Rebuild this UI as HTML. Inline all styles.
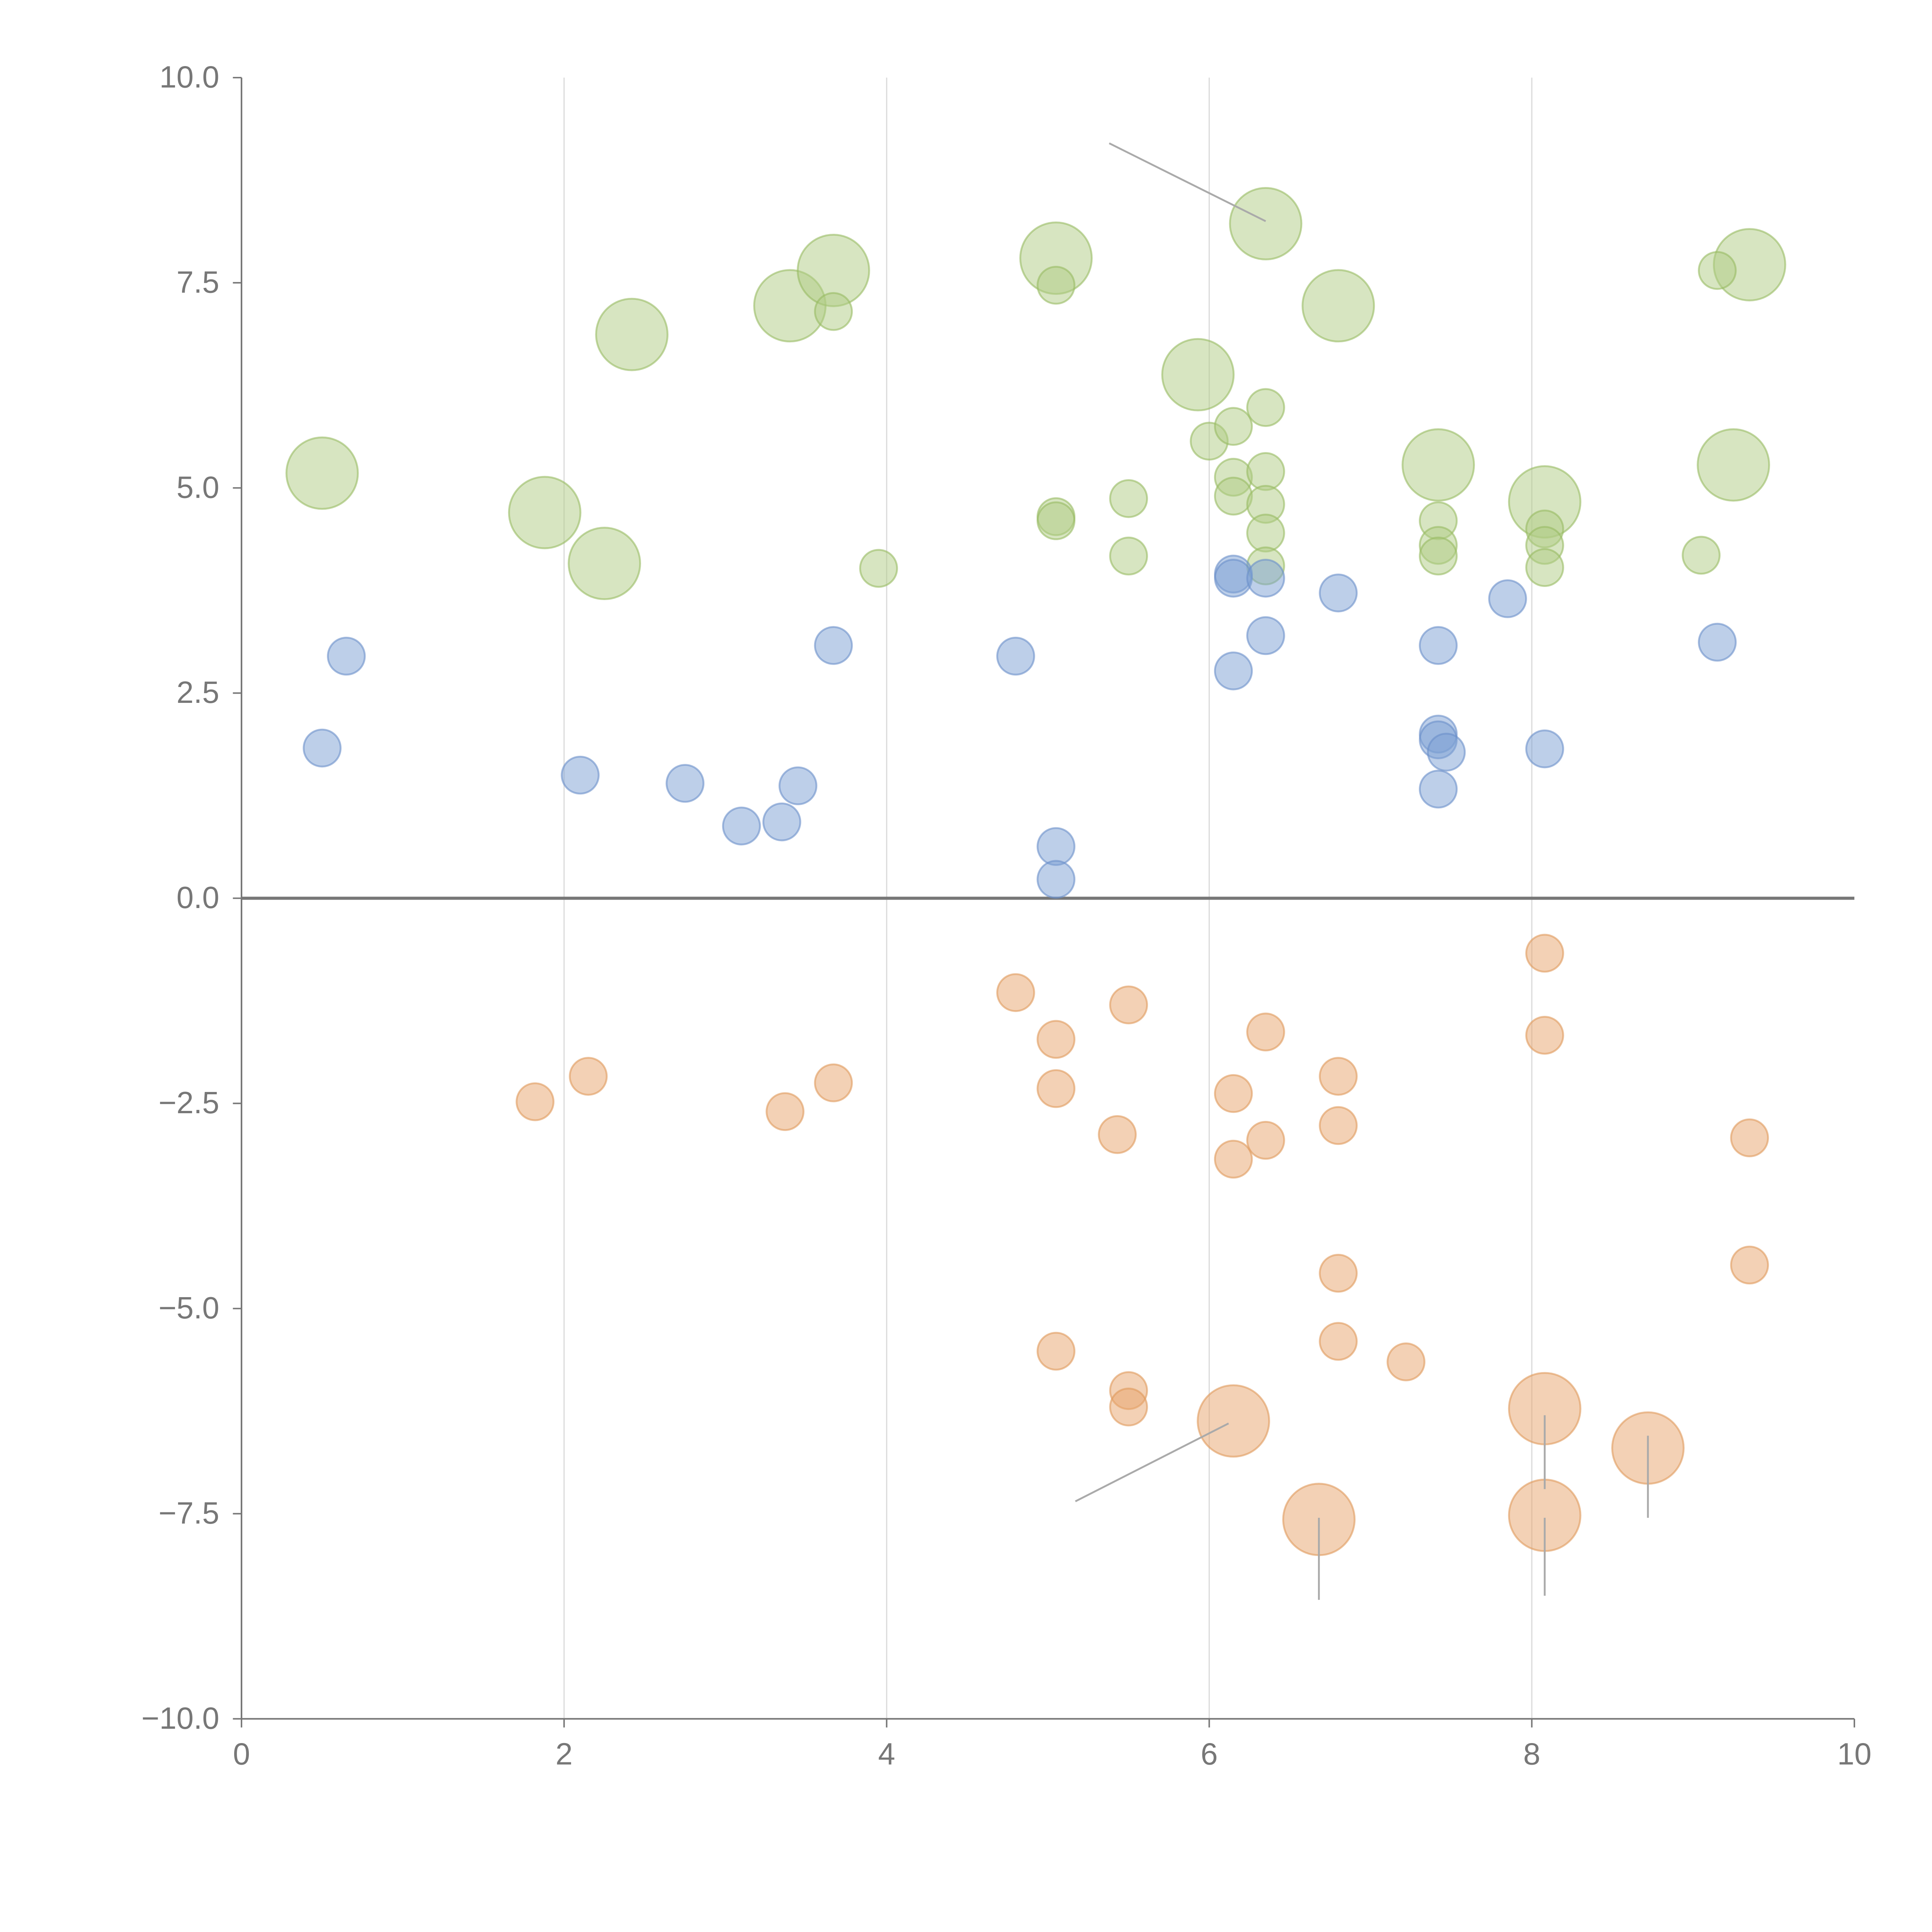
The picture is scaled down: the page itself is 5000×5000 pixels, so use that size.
<!DOCTYPE html>
<html><head><meta charset="utf-8"><style>html,body{margin:0;padding:0;background:#fff}svg{display:block}</style></head>
<body>
<svg id="chart" width="5000" height="5000" viewBox="0 0 1568 1568" xmlns="http://www.w3.org/2000/svg" font-family="Liberation Sans, sans-serif">
<g id="grid"></g>
<g id="axes"></g>
<g id="marks"></g>
</svg>
<script>
const xTicks=[0,2,4,6,8,10];
const yTicks=[10,7.5,5,2.5,0,-2.5,-5,-7.5,-10];
const blueX=[0.65,0.5,2.1,2.75,3.1,3.35,3.45,3.67,4.8,5.05,5.05,6.15,6.15,6.15,6.35,6.35,6.8,7.42,7.42,7.42,7.47,7.42,7.85,8.08,9.15];
const blueY=[2.95,1.83,1.5,1.4,0.88,0.93,1.37,3.08,2.95,0.63,0.23,3.95,3.9,2.77,3.9,3.2,3.72,3.08,2.0,1.93,1.78,1.33,3.65,1.82,3.12];
const orangeX=[1.82,2.15,3.37,3.67,4.8,5.05,5.05,5.5,5.43,6.15,6.15,6.35,6.35,6.8,6.8,6.8,6.8,7.22,5.05,5.5,5.5,8.08,8.08,9.35,9.35];
const orangeY=[-2.48,-2.17,-2.6,-2.25,-1.15,-1.72,-2.32,-1.3,-2.88,-2.38,-3.18,-1.63,-2.95,-2.17,-2.77,-4.57,-5.4,-5.65,-5.52,-6.0,-6.2,-0.67,-1.67,-2.92,-4.47];
const orangeBigX=[6.15,6.68,8.08,8.08,8.72];
const orangeBigY=[-6.37,-7.57,-6.22,-7.52,-6.7];
const greenX=[3.67,5.05,3.95,5.05,5.05,5.5,5.5,6.0,6.15,6.15,6.15,6.35,6.35,6.35,6.35,6.35,7.42,7.42,7.42,8.08,8.08,8.08,9.05,9.15];
const greenY=[7.15,7.47,4.02,4.65,4.6,4.87,4.17,5.57,5.75,5.13,4.9,5.98,5.2,4.8,4.45,4.05,4.6,4.3,4.17,4.5,4.3,4.03,4.18,7.65];
const greenBigX=[0.5,1.88,2.25,2.42,3.4,3.67,5.05,5.93,6.35,6.8,7.42,8.08,9.25,9.35];
const greenBigY=[5.18,4.7,4.08,6.87,7.22,7.65,7.8,6.38,8.22,7.22,5.28,4.83,5.28,7.72];

const NS="http://www.w3.org/2000/svg";
const sx=v=>196+(v/10)*(1505-196);
const sy=v=>729-(v/10)*(729-63);
function mk(tag,attrs,parent){const e=document.createElementNS(NS,tag);for(const k in attrs)e.setAttribute(k,attrs[k]);parent.appendChild(e);return e;}
const grid=document.getElementById('grid'),axes=document.getElementById('axes'),marks=document.getElementById('marks');
xTicks.forEach(t=>{
  if(t>0&&t<10){const l=mk('line',{x1:sx(t),x2:sx(t),y1:63,y2:1395,stroke:'#dcdcdc','stroke-width':1},grid);
  
  }
  const tk=mk('line',{x1:sx(t),x2:sx(t),y1:1395,y2:1402,stroke:'#777','stroke-width':1.2},axes);
  
  
  const tx=mk('text',{x:sx(t),y:1432,'text-anchor':'middle','font-size':25,fill:'#777'},axes);
  tx.textContent=String(t);
  
  
});
yTicks.forEach(t=>{
  const tk=mk('line',{x1:189,x2:196,y1:sy(t),y2:sy(t),stroke:'#777','stroke-width':1.2},axes);
  
  
  const tx=mk('text',{x:178,y:sy(t)+8,'text-anchor':'end','font-size':25,fill:'#777'},axes);
  tx.textContent=t.toFixed(1).replace('-','\u2212');
  
  
});
let a=mk('line',{x1:196,x2:196,y1:63,y2:1395,stroke:'#777','stroke-width':1.3},axes);


a=mk('line',{x1:196,x2:1505,y1:1395,y2:1395,stroke:'#777','stroke-width':1.3},axes);


a=mk('line',{x1:196,x2:1505,y1:sy(0),y2:sy(0),stroke:'#777','stroke-width':2.5},axes);



function series(xs,ys,r,fill,stroke,name){
  xs.forEach((x,i)=>{
    const c=mk('circle',{cx:sx(x),cy:sy(ys[i]),r:r,fill:fill,'fill-opacity':0.5,stroke:stroke,'stroke-opacity':0.6,'stroke-width':1.5},marks);
    
    
  });
}
series(greenBigX,greenBigY,29,'#afcb84','#97bb62','green-bubble-large');
series(greenX,greenY,15,'#afcb84','#97bb62','green-bubble');
series(blueX,blueY,15,'#7b9fd4','#6a90c9','blue-bubble');
series(orangeX,orangeY,15,'#e7a46c','#e09a5c','orange-bubble');
series(orangeBigX,orangeBigY,29,'#e7a46c','#e09a5c','orange-bubble-large');

const leaders=[[5.38,9.2,6.35,8.25],[5.17,-7.35,6.12,-6.4],[6.68,-7.55,6.68,-8.55],[8.08,-6.3,8.08,-7.2],[8.08,-7.55,8.08,-8.5],[8.72,-6.55,8.72,-7.55]];
leaders.forEach(p=>{
  const l=mk('line',{x1:sx(p[0]),y1:sy(p[1]),x2:sx(p[2]),y2:sy(p[3]),stroke:'#aaa','stroke-width':1.5},marks);
  
  
});
</script>
</body></html>
